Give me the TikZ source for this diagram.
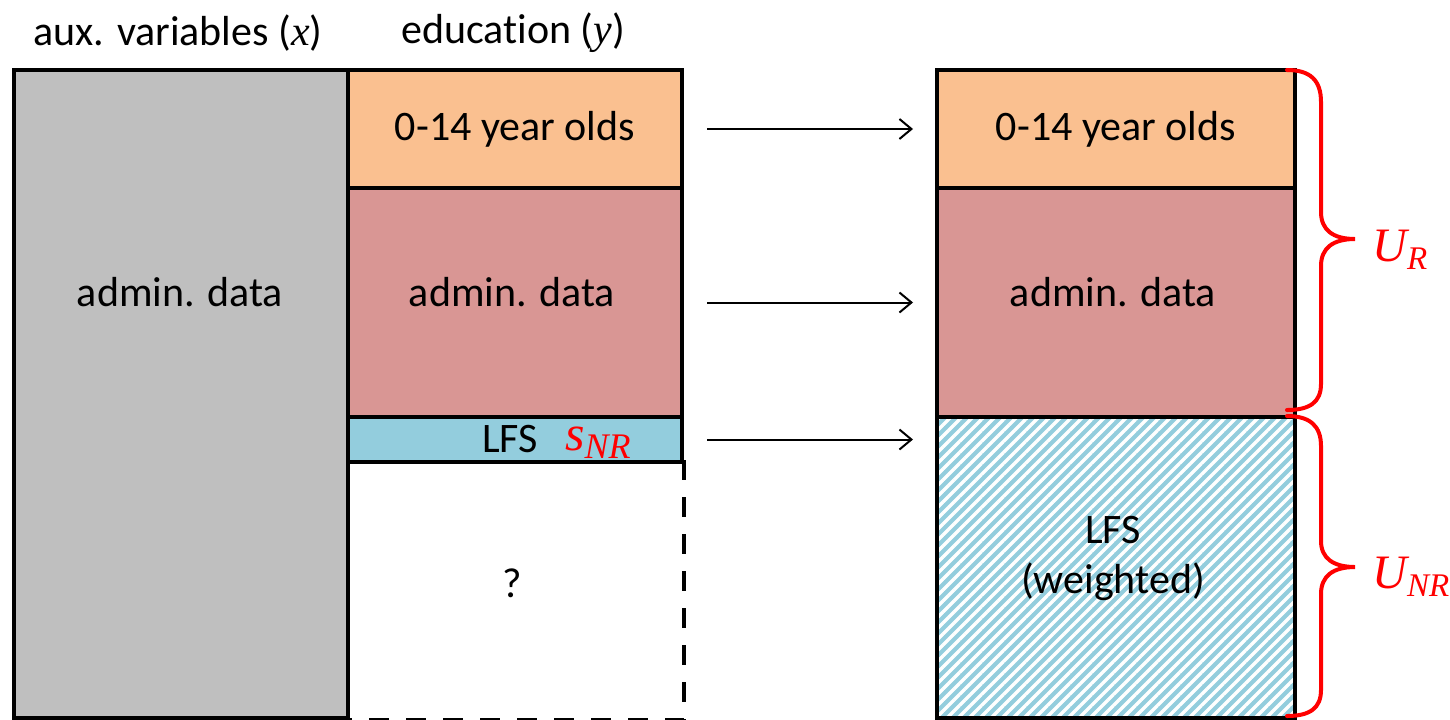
\documentclass[tikz,border=0pt]{standalone}
\usepackage{fontspec}
\setmainfont{Carlito}[Ligatures=NoCommon]
\newfontfamily\varfont{Liberation Serif}
\usetikzlibrary{patterns.meta,arrows.meta}

\definecolor{auxgray}{HTML}{BFBFBF}
\definecolor{kidorange}{HTML}{FAC090}
\definecolor{adminpink}{HTML}{D99694}
\definecolor{lfsblue}{HTML}{93CDDD}
\definecolor{markred}{HTML}{FF0000}

% italic variable with an optional lowered index
\newcommand\varsym[1]{{\varfont\itshape #1}}
\newcommand\varidx[4]{{\varfont\itshape\fontsize{#3}{#3}\selectfont #1%
  \raisebox{-0.35ex}{\fontsize{#4}{#4}\selectfont #2}}}

\begin{document}
\begin{tikzpicture}[x=0.5pt,y=-0.5pt,
  lbl/.style={inner sep=0pt, font=\fontsize{21}{25}\selectfont, align=center},
  box/.style={draw=black, line width=2pt, inner sep=0pt, anchor=north west,
    font=\fontsize{21}{25}\selectfont, align=center},
  leftcol/.style={box, minimum width=167pt},
  rightcol/.style={box, minimum width=179pt},
  flow/.style={line width=1pt, -{Straight Barb[length=6pt,width=10pt]},
    shorten <=11.5pt, shorten >=11pt},
  bracket/.style={draw=markred, line width=2pt, line cap=round},
  redmath/.style={inner sep=0pt, text=markred},
  hatched/.style={preaction={fill=lfsblue},
    pattern={Lines[angle=45, distance=3.889pt, line width=1.7pt]},
    pattern color=white}
]
\useasboundingbox (0,0) rectangle (1450,719);

% column headings
\node[lbl] (hx) at (178,33) {aux. variables (\varsym{x})};
\node[lbl] (hy) at (513,33) {education (\varsym{y})};

% unknown part of the education column
\node[leftcol, draw=none, fill=white, minimum height=128pt] (unk) at (346,460) {};
\node[lbl] (qm) at (512,583) {?};
\draw[line width=2pt, dash pattern=on 10pt off 8.5pt]
  (unk.north east) -- (unk.south east) -- (unk.south west);

% auxiliary variables
\node[box, fill=auxgray, minimum width=167pt, minimum height=324pt] (aux) at (12,68) {};
\node[lbl] (auxtxt) at (180,292) {admin. data};

% education column
\node[leftcol, fill=kidorange, minimum height=59pt] (kid) at (346,68) {0-14 year olds};
\node[leftcol, fill=adminpink, minimum height=114.5pt] (adm) at (346,186) {};
\node[lbl] (admtxt) at (512,292) {admin. data};
\node[leftcol, fill=lfsblue, minimum height=22.5pt] (lfs) at (346,415) {};
\node[lbl] (lfstxt) at (510,439) {LFS};
\node[redmath] (snr) at (598,443) {\varidx{s}{NR}{25}{18}};

% completed population
\node[rightcol, fill=kidorange, minimum height=59pt] (rkid) at (935,68) {0-14 year olds};
\node[rightcol, fill=adminpink, minimum height=114.5pt] (radm) at (935,186) {};
\node[lbl] (radmtxt) at (1113,292) {admin. data};
\node[rightcol, hatched, minimum height=150.5pt] (rlfs) at (935,415) {};
\node[lbl] (rlfstxt) at (1113,558) {LFS\\(weighted)};

% transfers
\draw[flow] (kid.east) -- (rkid.west);
\draw[flow] (adm.east) -- (radm.west);
\draw[flow] (lfs.east) -- (rlfs.west |- lfs.east);

% population parts
\draw[bracket] (1287,70) .. controls (1310,70) and (1321,80) .. (1321,102)
  -- (1321,212) .. controls (1321,230) and (1333,239) .. (1355,239)
  .. controls (1333,239) and (1321,248) .. (1321,266)
  -- (1321,384) .. controls (1321,402) and (1310,410) .. (1287,410);
\draw[bracket] (1287,416) .. controls (1310,416) and (1321,426) .. (1321,446)
  -- (1321,541) .. controls (1321,558) and (1333,567) .. (1355,567)
  .. controls (1333,567) and (1321,576) .. (1321,594)
  -- (1321,690) .. controls (1321,708) and (1310,716) .. (1287,716);
\node[redmath, anchor=west] (ur) at (1372,250) {\varidx{U}{R}{24}{16.5}};
\node[redmath, anchor=west] (unr) at (1372,577) {\varidx{U}{NR}{24}{16.5}};
\end{tikzpicture}
\end{document}
